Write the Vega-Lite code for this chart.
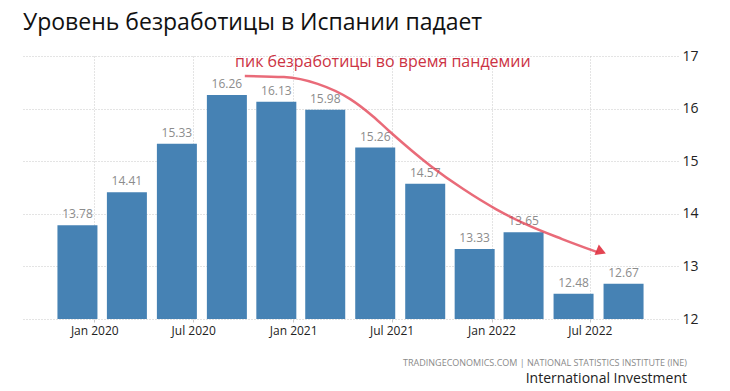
{
  "$schema": "https://vega.github.io/schema/vega-lite/v6.json",
  "background": "white",
  "padding": {"left": 23, "top": 12, "right": 5, "bottom": 0},
  "title": {
    "text": "Уровень безработицы в Испании падает",
    "anchor": "start",
    "frame": "group",
    "font": "Open Sans",
    "fontSize": 23,
    "fontWeight": "normal",
    "color": "#111111",
    "offset": 14
  },
  "vconcat": [
    {
      "width": 655,
      "height": 263,
      "title": {
        "text": "TRADINGECONOMICS.COM  |  NATIONAL STATISTICS INSTITUTE (INE)",
        "subtitle": "International Investment",
        "orient": "bottom",
        "anchor": "end",
        "frame": "group",
        "dx": 9,
        "offset": 23,
        "font": "Open Sans",
        "fontSize": 9,
        "fontWeight": "normal",
        "color": "#8a8a8a",
        "subtitleFont": "Open Sans",
        "subtitleFontSize": 14,
        "subtitleColor": "#222222",
        "subtitlePadding": 4
      },
      "layer": [
        {
          "data": {"values": [
            {"date": "2019-12-01", "value": 13.78},
            {"date": "2020-03-01", "value": 14.41},
            {"date": "2020-06-01", "value": 15.33},
            {"date": "2020-09-01", "value": 16.26},
            {"date": "2020-12-01", "value": 16.13},
            {"date": "2021-03-01", "value": 15.98},
            {"date": "2021-06-01", "value": 15.26},
            {"date": "2021-09-01", "value": 14.57},
            {"date": "2021-12-01", "value": 13.33},
            {"date": "2022-03-01", "value": 13.65},
            {"date": "2022-06-01", "value": 12.48},
            {"date": "2022-09-01", "value": 12.67}
          ]},
          "layer": [
            {
              "mark": {"type": "bar", "size": 40, "color": "#4682b4"},
              "encoding": {
                "x": {
                  "field": "date", "type": "temporal",
                  "scale": {"type": "utc", "domain": [{"year": 2019, "month": 9, "date": 1, "utc": true}, {"year": 2022, "month": 12, "date": 1, "utc": true}]},
                  "axis": {
                    "title": null,
                    "values": [
                      {"year": 2020, "month": 1, "date": 1, "utc": true},
                      {"year": 2020, "month": 7, "date": 1, "utc": true},
                      {"year": 2021, "month": 1, "date": 1, "utc": true},
                      {"year": 2021, "month": 7, "date": 1, "utc": true},
                      {"year": 2022, "month": 1, "date": 1, "utc": true},
                      {"year": 2022, "month": 7, "date": 1, "utc": true}
                    ],
                    "format": "%b %Y",
                    "grid": true,
                    "gridColor": "#c8c8c8",
                    "gridDash": [1, 2],
                    "domain": false,
                    "ticks": true,
                    "tickSize": 3,
                    "tickColor": "#c8c8c8",
                    "labelPadding": 3,
                    "labelFont": "Open Sans",
                    "labelFontSize": 12,
                    "labelColor": "#222222"
                  }
                },
                "y": {
                  "field": "value", "type": "quantitative",
                  "scale": {"domain": [12, 17], "zero": false, "nice": false},
                  "axis": {
                    "orient": "right",
                    "title": null,
                    "values": [12, 13, 14, 15, 16, 17],
                    "grid": true,
                    "gridColor": "#c8c8c8",
                    "gridDash": [1, 2],
                    "domain": false,
                    "ticks": false,
                    "labelPadding": 4,
                    "labelFont": "Open Sans",
                    "labelFontSize": 14,
                    "labelColor": "#222222"
                  }
                },
                "y2": {"datum": 12}
              }
            },
            {
              "mark": {"type": "text", "dy": -11, "font": "Open Sans", "fontSize": 12, "color": "#8c8c8c"},
              "encoding": {
                "x": {"field": "date", "type": "temporal"},
                "y": {"field": "value", "type": "quantitative"},
                "text": {"field": "value", "type": "quantitative", "format": ".2f"}
              }
            }
          ]
        },
        {
          "data": {"values": [
            {"date": "2020-10-04", "value": 16.62},
            {"date": "2020-12-15", "value": 16.60},
            {"date": "2021-02-15", "value": 16.47},
            {"date": "2021-04-16", "value": 16.18},
            {"date": "2021-05-27", "value": 15.86},
            {"date": "2021-06-27", "value": 15.57},
            {"date": "2021-09-11", "value": 14.91},
            {"date": "2021-11-10", "value": 14.47},
            {"date": "2022-01-09", "value": 14.09},
            {"date": "2022-03-12", "value": 13.77},
            {"date": "2022-05-11", "value": 13.52},
            {"date": "2022-07-15", "value": 13.27}
          ]},
          "mark": {"type": "line", "color": "#e23a4c", "strokeWidth": 2.5, "opacity": 0.75, "interpolate": "monotone"},
          "encoding": {
            "x": {"field": "date", "type": "temporal"},
            "y": {"field": "value", "type": "quantitative"}
          }
        },
        {
          "data": {"values": [{"date": "2022-07-22", "value": 13.28}]},
          "mark": {"type": "point", "shape": "triangle-right", "filled": true, "size": 130, "angle": 22, "color": "#e0303f", "opacity": 0.9},
          "encoding": {
            "x": {"field": "date", "type": "temporal"},
            "y": {"field": "value", "type": "quantitative"}
          }
        },
        {
          "data": {"values": [{"date": "2021-06-15", "value": 16.89, "label": "пик безработицы во время пандемии"}]},
          "mark": {"type": "text", "font": "Open Sans", "fontSize": 16, "color": "#cc3344", "align": "center", "baseline": "middle"},
          "encoding": {
            "x": {"field": "date", "type": "temporal"},
            "y": {"field": "value", "type": "quantitative"},
            "text": {"field": "label"}
          }
        }
      ]
    }
  ],
  "config": {
    "view": {"stroke": null}
  }
}
